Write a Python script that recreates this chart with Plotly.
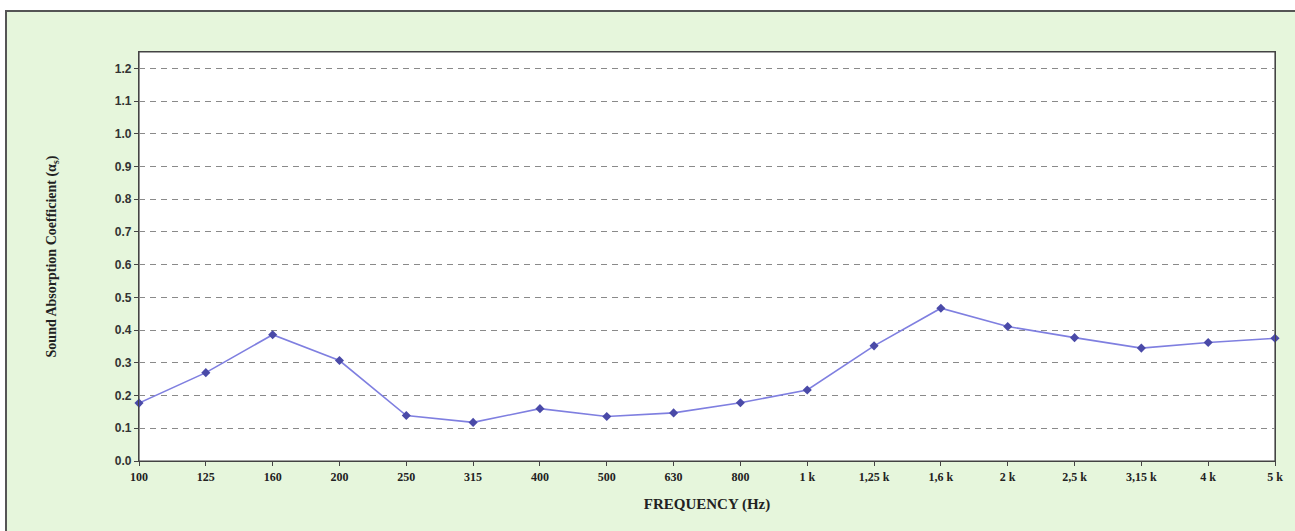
import plotly.graph_objects as go

frequencies = ["100", "125", "160", "200", "250", "315", "400", "500", "630", "800",
               "1 k", "1,25 k", "1,6 k", "2 k", "2,5 k", "3,15 k", "4 k", "5 k"]
absorption = [0.177, 0.270, 0.386, 0.307, 0.139, 0.118, 0.160, 0.136, 0.147, 0.178,
              0.217, 0.352, 0.467, 0.411, 0.377, 0.345, 0.362, 0.375]
y_ticks = [0.0, 0.1, 0.2, 0.3, 0.4, 0.5, 0.6, 0.7, 0.8, 0.9, 1.0, 1.1, 1.2]

W, H = 1295, 531
L, R, T, B = 139, 20, 52, 70
pw, ph = W - L - R, H - T - B

def px(x):
    return (x - L) / pw

def py(y):
    return (H - B - y) / ph

serif = "Liberation Serif, Times New Roman, serif"
sans = "Liberation Sans, Arial, sans-serif"

fig = go.Figure()
fig.add_trace(go.Scatter(
    x=list(range(len(frequencies))), y=absorption, mode="lines+markers",
    line=dict(color="#7f7fe0", width=1.6),
    marker=dict(symbol="diamond", size=7, color="#4a4aa8"),
    showlegend=False, cliponaxis=False,
))

fig.add_shape(type="rect", xref="paper", yref="paper", layer="below",
              x0=px(6), x1=px(1305), y0=py(545), y1=py(11),
              fillcolor="#e6f6dc", line=dict(color="#555555", width=2))
fig.add_shape(type="rect", xref="paper", yref="paper", layer="below",
              x0=0, x1=1, y0=0, y1=1,
              fillcolor="white", line=dict(color="#444444", width=1.2))

fig.update_layout(
    width=W, height=H,
    margin=dict(l=L, r=R, t=T, b=B),
    paper_bgcolor="white", plot_bgcolor="rgba(0,0,0,0)",
    xaxis=dict(
        range=[0, len(frequencies) - 1],
        tickmode="array", tickvals=list(range(len(frequencies))), ticktext=frequencies,
        showgrid=False, zeroline=False, showline=True, linecolor="#444444", linewidth=1.2,
        mirror=True, ticks="outside", ticklen=4, tickcolor="#444444",
        tickfont=dict(family=serif, size=12, color="#222222", weight="bold"),
        title=dict(text="FREQUENCY (Hz)", standoff=15,
                   font=dict(family=serif, size=15, color="#222222", weight="bold")),
    ),
    yaxis=dict(
        range=[0, 1.25],
        tickmode="array", tickvals=y_ticks, ticktext=[f"{v:.1f}" for v in y_ticks],
        showgrid=True, gridcolor="#8a8a8a", gridwidth=1, griddash="6px,5px",
        zeroline=False, showline=True, linecolor="#444444", linewidth=1.2,
        mirror=True, ticks="outside", ticklen=4, tickcolor="#444444",
        tickfont=dict(family=sans, size=12, color="#333333", weight="bold"),
        title=dict(text="Sound Absorption Coefficient (α<sub>s</sub>)", standoff=54,
                   font=dict(family=serif, size=14, color="#222222", weight="bold")),
    ),
)

fig.write_html("out.html", config={"displayModeBar": False},
               post_script="document.body.style.margin='0';")
